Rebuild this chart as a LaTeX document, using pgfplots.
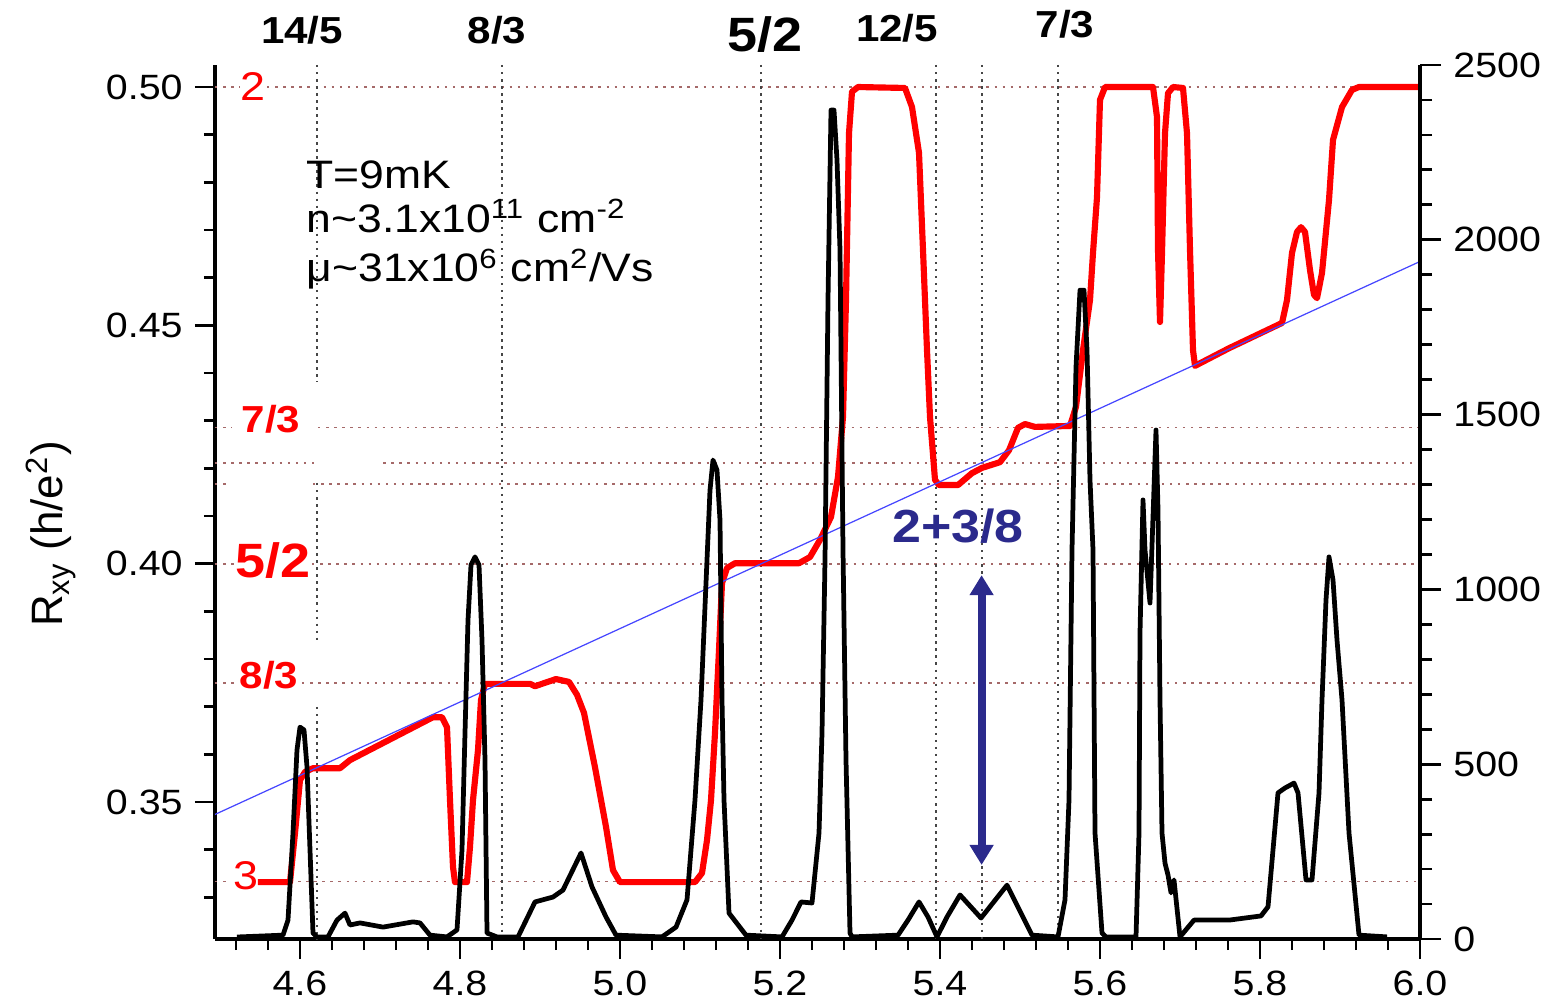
\documentclass[border=0pt]{standalone}
\usepackage{pgfplots}
\pgfplotsset{compat=1.18}
\usepackage{fontspec}
\setmainfont{Liberation Sans}[FakeStretch=1.12]
\newfontfamily\plainsans{Liberation Sans}
\usetikzlibrary{arrows.meta}
\definecolor{rxy}{RGB}{255,0,0}
\definecolor{navy}{RGB}{43,42,140}
\definecolor{hgrid}{RGB}{165,105,105}
\definecolor{vgrid}{RGB}{70,70,70}
\definecolor{bline}{RGB}{70,70,255}
\begin{document}
\begin{tikzpicture}
\useasboundingbox (-2.15,-0.63) rectangle (13.38,9.39);
\begin{axis}[
  at={(0,0)}, anchor=south west,
  scale only axis, width=12.05cm, height=8.74cm,
  xmin=4.49375, xmax=6.0, ymin=0.32127, ymax=0.50462,
  axis x line*=bottom, axis y line*=left,
  axis line style={line width=1pt, -},
  tick align=outside,
  major tick length=0.2cm, minor tick length=0.11cm,
  tick style={black, line width=0.8pt},
  xtick={4.6,4.8,5.0,5.2,5.4,5.6,5.8,6.0},
  xticklabels={4.6,4.8,5.0,5.2,5.4,5.6,5.8,6.0},
  minor xtick={4.52,4.56,4.64,4.68,4.72,4.76,4.84,4.88,4.92,4.96,5.04,5.08,5.12,5.16,5.24,5.28,5.32,5.36,5.44,5.48,5.52,5.56,5.64,5.68,5.72,5.76,5.84,5.88,5.92,5.96},
  ytick={0.35,0.40,0.45,0.50},
  yticklabels={0.35,0.40,0.45,0.50},
  minor ytick={0.33,0.34,0.36,0.37,0.38,0.39,0.41,0.42,0.43,0.44,0.46,0.47,0.48,0.49},
  tick label style={font=\fontsize{10}{12}\selectfont},
  /pgf/number format/assume math mode=true,
  clip=false,
]
% horizontal quantized lines
\addplot[hgrid, line width=0.5pt, dash pattern=on 0.7pt off 1.6pt] coordinates {(4.49375,0.5) (4.525,0.5)};
\addplot[hgrid, line width=0.5pt, dash pattern=on 0.7pt off 1.6pt] coordinates {(4.5588,0.5) (6.0,0.5)};
\addplot[hgrid, line width=0.5pt, dash pattern=on 0.7pt off 1.6pt] coordinates {(4.49375,0.42857) (4.515,0.42857)};
\addplot[hgrid, line width=0.5pt, dash pattern=on 0.7pt off 1.6pt] coordinates {(4.6225,0.42857) (6.0,0.42857)};
\addplot[hgrid, line width=0.5pt, dash pattern=on 0.7pt off 1.6pt] coordinates {(4.49375,0.42105) (4.62,0.42105)};
\addplot[hgrid, line width=0.5pt, dash pattern=on 0.7pt off 1.6pt] coordinates {(4.704,0.42105) (6.0,0.42105)};
\addplot[hgrid, line width=0.5pt, dash pattern=on 0.7pt off 1.6pt] coordinates {(4.49375,0.41667) (4.5075,0.41667)};
\addplot[hgrid, line width=0.5pt, dash pattern=on 0.7pt off 1.6pt] coordinates {(4.6163,0.41667) (6.0,0.41667)};
\addplot[hgrid, line width=0.5pt, dash pattern=on 0.7pt off 1.6pt] coordinates {(4.49375,0.4) (4.52,0.4)};
\addplot[hgrid, line width=0.5pt, dash pattern=on 0.7pt off 1.6pt] coordinates {(4.615,0.4) (6.0,0.4)};
\addplot[hgrid, line width=0.5pt, dash pattern=on 0.7pt off 1.6pt] coordinates {(4.49375,0.375) (4.52,0.375)};
\addplot[hgrid, line width=0.5pt, dash pattern=on 0.7pt off 1.6pt] coordinates {(4.6025,0.375) (6.0,0.375)};
\addplot[hgrid, line width=0.5pt, dash pattern=on 0.7pt off 1.6pt] coordinates {(4.49375,0.33333) (4.5125,0.33333)};
\addplot[hgrid, line width=0.5pt, dash pattern=on 0.7pt off 1.6pt] coordinates {(4.5875,0.33333) (6.0,0.33333)};
% vertical lines
\addplot[vgrid, line width=0.55pt, dash pattern=on 0.7pt off 1.3pt] coordinates {(4.621,0.50462) (4.621,0.43812)};
\addplot[vgrid, line width=0.55pt, dash pattern=on 0.7pt off 1.3pt] coordinates {(4.621,0.41693) (4.621,0.38336)};
\addplot[vgrid, line width=0.55pt, dash pattern=on 0.7pt off 1.3pt] coordinates {(4.621,0.36994) (4.621,0.32127)};
\addplot[vgrid, line width=0.55pt, dash pattern=on 0.7pt off 1.3pt] coordinates {(4.853,0.50462) (4.853,0.32127)};
\addplot[vgrid, line width=0.55pt, dash pattern=on 0.7pt off 1.3pt] coordinates {(5.176,0.50462) (5.176,0.32127)};
\addplot[vgrid, line width=0.55pt, dash pattern=on 0.7pt off 1.3pt] coordinates {(5.395,0.50462) (5.395,0.32127)};
\addplot[vgrid, line width=0.55pt, dash pattern=on 0.7pt off 1.3pt] coordinates {(5.452,0.50462) (5.452,0.32127)};
\addplot[vgrid, line width=0.55pt, dash pattern=on 0.7pt off 1.3pt] coordinates {(5.548,0.50462) (5.548,0.32127)};
% Rxy
\addplot[rxy, line width=1.75pt, line join=round] coordinates {
(4.5475,0.3332) (4.5875,0.3332) (4.59375,0.3435) (4.6,0.3546) (4.60625,0.3563) (4.61625,0.3571)
(4.65,0.3571) (4.6625,0.3588) (4.76625,0.3678) (4.7775,0.3678) (4.78375,0.3657) (4.7875,0.3504)
(4.79125,0.3364) (4.79375,0.3332) (4.80875,0.3332) (4.8125,0.3406) (4.81625,0.3504) (4.8225,0.3609)
(4.82625,0.3714) (4.83125,0.3748) (4.8875,0.3748) (4.89375,0.3743) (4.92,0.3758) (4.93625,0.3752)
(4.94625,0.3725) (4.955,0.3687) (4.96875,0.3573) (4.9825,0.3448) (4.99125,0.3357) (5.0,0.3332)
(5.09375,0.3332) (5.1025,0.3351) (5.10875,0.3420) (5.11375,0.3504) (5.11875,0.3645) (5.12375,0.3819)
(5.1275,0.3959) (5.13375,0.3991) (5.14375,0.4001) (5.22375,0.4001) (5.2375,0.4014) (5.25,0.4050)
(5.26375,0.4098) (5.2725,0.4182) (5.27875,0.4308) (5.2825,0.4553) (5.28625,0.4903) (5.29,0.4990)
(5.2975,0.5) (5.35625,0.4998) (5.365,0.4958) (5.37375,0.4862) (5.37875,0.4658) (5.38375,0.4448)
(5.3875,0.4308) (5.39375,0.4176) (5.39875,0.4165) (5.4225,0.4165) (5.44,0.4190) (5.4525,0.4201)
(5.475,0.4213) (5.48625,0.4238) (5.4975,0.4285) (5.50625,0.4293) (5.51875,0.4287) (5.5625,0.4289)
(5.57,0.4329) (5.57875,0.4448) (5.5875,0.4553) (5.59125,0.4652) (5.59625,0.4769) (5.6,0.4973)
(5.60625,0.5) (5.66625,0.5) (5.67125,0.4937) (5.6725,0.4658) (5.675,0.4507) (5.6775,0.4652)
(5.68125,0.4903) (5.685,0.4987) (5.69125,0.5) (5.70375,0.4998) (5.70875,0.4903) (5.7125,0.4658)
(5.71625,0.4448) (5.71875,0.4415) (5.76125,0.4452) (5.7875,0.4473) (5.8275,0.4505) (5.83375,0.4553)
(5.84,0.4652) (5.84625,0.4696) (5.85125,0.4706) (5.85625,0.4696) (5.8625,0.4616) (5.8675,0.4564)
(5.87125,0.4557) (5.8775,0.4610) (5.88625,0.4763) (5.89125,0.4889) (5.9025,0.4958) (5.915,0.4994)
(5.92375,0.5) (6.0,0.5)
};
% classical Hall line
\addplot[bline, line width=0.35pt] coordinates {(4.49375,0.3474) (6.0,0.4634)};
% labels
\node[anchor=base, font=\bfseries\fontsize{10.7}{12}\selectfont] at (axis cs:4.6025,0.50923) {14/5};
\node[anchor=base, font=\bfseries\fontsize{10.7}{12}\selectfont] at (axis cs:4.84625,0.50923) {8/3};
\node[anchor=base, font=\bfseries\fontsize{13.7}{15}\selectfont] at (axis cs:5.18125,0.50755) {5/2};
\node[anchor=base, font=\bfseries\fontsize{10.7}{12}\selectfont] at (axis cs:5.34625,0.50965) {12/5};
\node[anchor=base, font=\bfseries\fontsize{10.7}{12}\selectfont] at (axis cs:5.55625,0.51049) {7/3};
\node[anchor=base, text=rxy, font=\fontsize{11.4}{13}\selectfont] at (axis cs:4.54125,0.49727) {2};
\node[anchor=base, text=rxy, font=\bfseries\fontsize{10.7}{12}\selectfont] at (axis cs:4.56375,0.42742) {7/3};
\node[anchor=base, text=rxy, font=\bfseries\fontsize{13.7}{15}\selectfont] at (axis cs:4.56625,0.39721) {5/2};
\node[anchor=base, text=rxy, font=\bfseries\fontsize{10.7}{12}\selectfont] at (axis cs:4.56125,0.37392) {8/3};
\node[anchor=base, text=rxy, font=\fontsize{11.4}{13}\selectfont] at (axis cs:4.5325,0.33155) {3};
\node[anchor=base west, inner sep=0pt, font=\fontsize{11.3}{13}\selectfont] at (axis cs:4.6075,0.4788) {T=9mK};
\node[anchor=base west, inner sep=0pt, font=\fontsize{11.3}{13}\selectfont] at (axis cs:4.6075,0.4694) {n\textasciitilde 3.1x10\textsuperscript{11} cm\textsuperscript{-2}};
\node[anchor=base west, inner sep=0pt, font=\fontsize{11.3}{13}\selectfont] at (axis cs:4.6075,0.4591) {μ\textasciitilde 31x10\textsuperscript{6} cm\textsuperscript{2}/Vs};
\node[anchor=base, text=navy, font=\bfseries\fontsize{13.2}{15}\selectfont] at (axis cs:5.4225,0.40455) {2+3/8};
\node[anchor=base, rotate=90, font=\plainsans\fontsize{12.5}{14}\selectfont] at (axis cs:4.30375,0.40623) {R\textsubscript{xy} (h/e\textsuperscript{2})};
\draw[navy, line width=2.3pt, {Triangle[width=6.5pt,length=5.7pt]}-{Triangle[width=6.5pt,length=5.7pt]}] (axis cs:5.452,0.3976) -- (axis cs:5.452,0.3368);
\end{axis}
\begin{axis}[
  at={(0,0)}, anchor=south west,
  scale only axis, width=12.05cm, height=8.74cm,
  xmin=4.49375, xmax=6.0, ymin=0, ymax=2500,
  axis x line=none, axis y line*=right,
  axis line style={line width=0.9pt, -},
  tick align=outside,
  major tick length=0.21cm, minor tick length=0.12cm,
  tick style={black, line width=0.8pt},
  ytick={0,500,1000,1500,2000,2500},
  yticklabels={0,500,1000,1500,2000,2500},
  minor ytick={100,200,300,400,600,700,800,900,1100,1200,1300,1400,1600,1700,1800,1900,2100,2200,2300,2400},
  tick label style={font=\fontsize{10}{12}\selectfont},
  /pgf/number format/assume math mode=true,
  clip=false,
]
\addplot[black, line width=1.35pt, line join=round] coordinates {
(4.52125,5.7) (4.57875,11) (4.585,54) (4.59125,303) (4.59625,541) (4.6,606) (4.605,598) (4.60875,492)
(4.6125,255) (4.61625,17) (4.62125,6) (4.635,6) (4.64625,54) (4.65625,74) (4.6625,40) (4.675,46)
(4.70375,34) (4.74125,49) (4.75,46) (4.7625,11) (4.78375,6) (4.79625,26) (4.8025,255) (4.80625,589)
(4.81,912) (4.81375,1070) (4.81875,1093) (4.82375,1070) (4.8275,855) (4.83125,512) (4.83375,17)
(4.84625,6) (4.8725,6) (4.89375,106) (4.91625,120) (4.92875,140) (4.95125,246) (4.965,149)
(4.9825,63) (4.995,11) (5.0525,6) (5.07,34) (5.08375,112) (5.09375,398) (5.10125,684) (5.1075,1018)
(5.1125,1284) (5.11625,1370) (5.12125,1341) (5.125,1198) (5.1275,684) (5.13,398) (5.13625,74)
(5.1575,11) (5.2025,6) (5.215,54) (5.22625,106) (5.24,103) (5.24875,303) (5.2525,589) (5.25625,1084)
(5.26,1828) (5.26375,2371) (5.2675,2371) (5.27125,2228) (5.275,1971) (5.27875,1113) (5.2825,512)
(5.2875,17) (5.29,6) (5.3475,11) (5.36,54) (5.37375,106) (5.385,63) (5.39625,6) (5.40875,63)
(5.425,126) (5.45125,60) (5.48375,154) (5.50125,74) (5.515,11) (5.5475,6) (5.55625,112) (5.56125,398)
(5.565,1113) (5.57,1636) (5.575,1856) (5.58,1856) (5.58375,1685) (5.5875,1313) (5.59125,1113)
(5.59375,303) (5.6025,17) (5.6075,6) (5.645,6) (5.64875,303) (5.65,875) (5.65375,1256) (5.65625,1113)
(5.6625,961) (5.66625,1207) (5.67,1456) (5.6725,1227) (5.675,684) (5.6775,303) (5.68125,217)
(5.685,183) (5.68875,132) (5.6925,169) (5.7,6) (5.7175,54) (5.76125,54) (5.80125,66) (5.81,92)
(5.8225,418) (5.83125,432) (5.8425,446) (5.8475,418) (5.8575,169) (5.865,169) (5.87375,418)
(5.8775,684) (5.8825,970) (5.88625,1093) (5.89125,1027) (5.89625,855) (5.9025,684) (5.91125,303)
(5.92375,11) (5.95875,6)
};
\end{axis}
\end{tikzpicture}
\end{document}
